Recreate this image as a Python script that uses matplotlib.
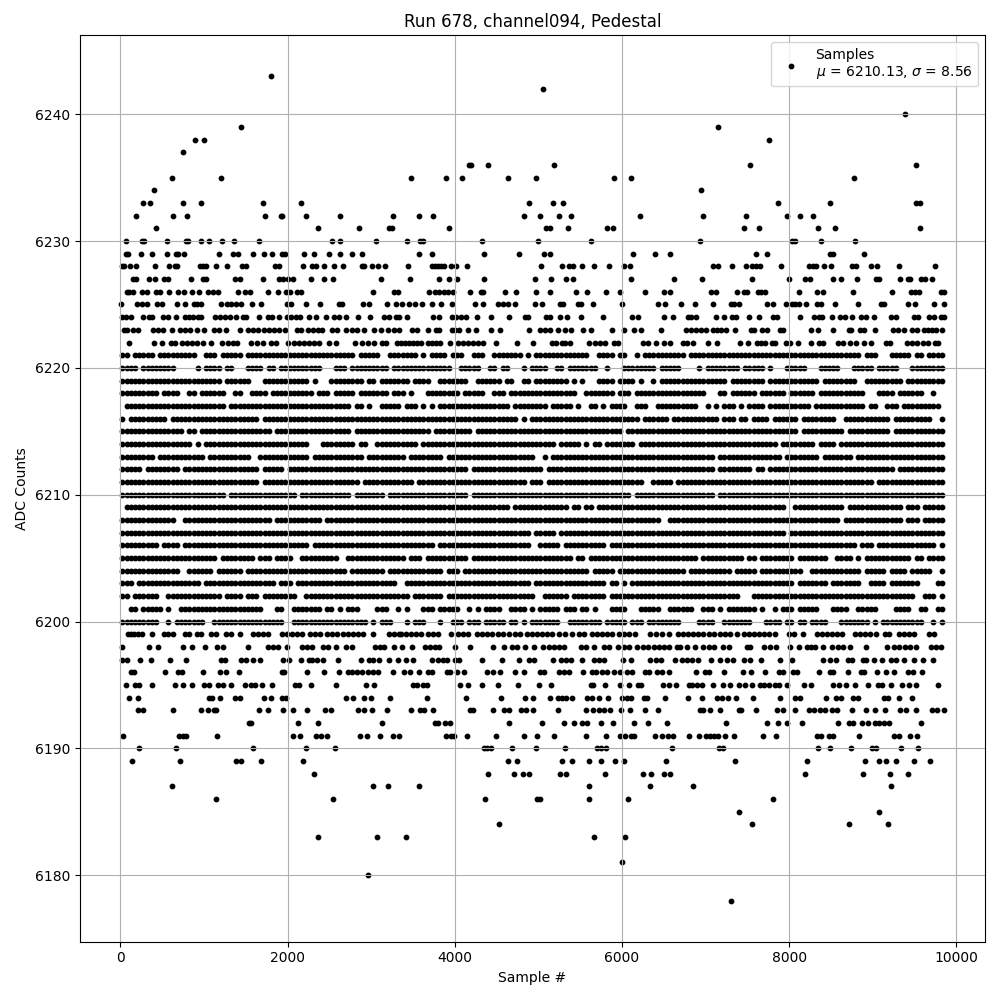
import numpy as np
import matplotlib
matplotlib.use('Agg')
import matplotlib.pyplot as plt

# Sparse ADC levels, sample numbers
s6243 = [1804]
s6242 = [5061]
s6240 = [9387]
s6239 = [1444, 7143]
s6238 = [892, 1000, 7755]
s6237 = [748]
s6236 = [4165, 4197, 4401, 5181, 7527, 9519]
s6235 = [616, 1204, 3477, 3897, 4089, 4641, 4977, 5901, 6105, 8775]
s6234 = [400, 6951]
s6233 = [268, 352, 748, 964, 1708, 2164, 4893, 5169, 5289, 7863, 8487, 9519, 9567]
s6232 = [184, 628, 796, 1732, 1920, 1932, 2224, 2632, 3256, 3573, 3741, 4833, 5025, 5241, 5385, 6213,
         6975, 7479, 7971, 8127, 8283]
s6231 = [424, 2368, 2860, 3208, 3248, 3933, 5097, 5141, 5349, 5817, 5889, 7455, 7635, 8343, 8547, 9567]
s6230 = [64, 256, 280, 556, 784, 808, 968, 1060, 1216, 1360, 1660, 2536, 2632, 3052, 3429, 3585, 3621,
         4329, 5001, 5625, 6939, 8035, 8067, 8379, 8787]
s6229 = [68, 92, 244, 376, 556, 664, 688, 760, 1180, 1348, 1408, 1588, 1720, 1816, 1936, 1972, 2200, 2320,
         2500, 2632, 2776, 2888, 3573, 3729, 4353, 4773, 5073, 5133, 6129, 6393, 6573, 7599, 7731, 8487,
         8523, 8895]
s6228 = [16, 40, 112, 184, 412, 580, 652, 676, 952, 988, 1024, 1144, 1276, 1456, 1504, 1852, 1900, 2188,
         2296, 2344, 2440, 2560, 2668, 2896, 2920, 3004, 3076, 3160, 3441, 3729, 3765, 3801, 3837, 3873,
         3957, 4017, 4149, 5037, 5277, 5361, 5409, 5517, 5661, 5841, 6021, 6093, 7083, 7143, 7311, 7479,
         7551, 7599, 7647, 7899, 8235, 8283, 8319, 8415, 8499, 8751, 8799, 8979, 9051, 9315, 9747]
s6227 = [148, 188, 340, 412, 520, 568, 844, 988, 1028, 1372, 1432, 1708, 1900, 1948, 2008, 2068, 2284,
         2440, 2548, 3112, 3465, 3813, 3933, 4029, 4353, 4965, 5145, 5325, 5409, 6105, 6621, 6963, 7551,
         7995, 8187, 8247, 8523, 8619, 8811, 9039, 9075, 9327, 9423, 9447, 9579, 9627, 9711]
s6226 = [76, 100, 148, 256, 316, 424, 472, 580, 688, 760, 856, 940, 1048, 1108, 1168, 1408, 1492, 1552,
         1768, 1888, 1984, 2032, 2116, 2164, 3016, 3268, 3316, 3693, 3765, 3813, 3873, 3921, 3981, 4185,
         4317, 4341, 4605, 4737, 4977, 5133, 5445, 5577, 5805, 5973, 6273, 6501, 6573, 7059, 7119, 7371,
         7455, 7491, 7623, 7659, 7707, 8115, 8331, 8403, 8763, 9231, 9459, 9507, 9555, 9819, 9850]
s6225 = [5, 196, 256, 316, 436, 496, 676, 772, 880, 916, 964, 1204, 1276, 1324, 1384, 1444, 1576, 1684,
         1996, 2044, 2224, 2392, 2620, 2656, 2908, 2968, 3184, 3292, 3369, 3453, 3525, 3609, 3729, 3837,
         3969, 4245, 4341, 4521, 4581, 4641, 4725, 4965, 5049, 5253, 5289, 5469, 5505, 5649, 5997, 6429,
         6513, 6711, 6879, 7083, 7299, 7335, 7395, 7731, 7803, 7959, 8031, 8067, 8115, 8199, 8331, 8379,
         8547, 8823, 9099, 9135, 9423, 9507, 9735, 9850]
s6224 = [20, 64, 124, 268, 340, 376, 508, 568, 664, 772, 820, 868, 928, 964, 1132, 1192, 1252, 1312, 1384,
         1468, 1504, 1660, 1768, 1816, 1900, 1996, 2044, 2104, 2152, 2260, 2344, 2464, 2560, 2620, 2704,
         2848, 2980, 3148, 3208, 3292, 3328, 3429, 3741, 3813, 3969, 4017, 4077, 4137, 4269, 4437, 4653,
         4845, 4881, 5097, 5133, 5253, 5337, 5505, 5769, 6117, 6189, 6501, 6615, 6795, 6831, 6891, 7119,
         7215, 7311, 7359, 7515, 7635, 7803, 7851, 8127, 8295, 8355, 8391, 8511, 8607, 8667, 8751, 8859,
         8919, 9015, 9219, 9279, 9495, 9543, 9675, 9735, 9819, 9850]
s6223 = [40, 76, 148, 208, 388, 448, 508, 616, 712, 772, 832, 916, 1000, 1120, 1180, 1264, 1432, 1528,
         1588, 1648, 1720, 1780, 1840, 1900, 1972, 2116, 2164, 2248, 2308, 2368, 2416, 2536, 2596, 2704,
         2776, 2836, 2920, 3028, 3112, 3196, 3268, 3328, 3489, 3549, 3681, 3777, 3813, 3969, 4005, 4053,
         4161, 4257, 4437, 4545, 4893, 5025, 5085, 5133, 5229, 5313, 5385, 5529, 5625, 5877, 6021, 6141,
         6225, 6465, 6771, 6831, 6891, 6951, 6999, 7083, 7131, 7179, 7239, 7347, 7539, 7575, 7671, 7731,
         7887, 7923, 8259, 8343, 8523, 8715, 8739, 8847, 8895, 9027, 9243, 9303, 9375, 9471, 9531, 9615,
         9663, 9711, 9759, 9831]
s6222 = [100, 400, 496, 604, 652, 736, 796, 856, 916, 988, 1084, 1216, 1288, 1348, 1396, 1564, 1636, 1708,
         1804, 1864, 2008, 2080, 2140, 2200, 2260, 2320, 2380, 2500, 2584, 2812, 2896, 2956, 3028, 3124,
         3172, 3309, 3357, 3405, 3453, 3501, 3549, 3597, 3681, 3729, 3777, 3825, 3945, 4041, 4101, 4161,
         4221, 4281, 4341, 4497, 4749, 4941, 5157, 5205, 5277, 5313, 5373, 5601, 5673, 5733, 5793, 5901,
         5949, 6249, 6309, 6405, 6501, 6575, 6735, 6783, 6855, 7023, 7131, 7407, 7503, 7611, 7659, 7707,
         7791, 7827, 7959, 8007, 8103, 8259, 8355, 8403, 8583, 8643, 8727, 8799, 8895, 8979, 9159, 9207,
         9411, 9471, 9531, 9603, 9663, 9747, 9783]
s6199 = [88, 128, 168, 208, 256, 376, 520, 568, 628, 768, 820, 916, 968, 1088, 1148, 1268, 1328, 1432, 1588,
         1648, 1708, 1768, 1928, 1988, 2048, 2108, 2168, 2268, 2328, 2388, 2468, 2528, 2588, 2668, 2728,
         2788, 2848, 2908, 3016, 3208, 3268, 3328, 3361, 3421, 3481, 3541, 3601, 3681, 3741, 3801, 3953,
         4041, 4101, 4161, 4261, 4321, 4381, 4441, 4521, 4581, 4653, 4721, 4785, 4861, 4921, 4981, 5041,
         5101, 5161, 5241, 5321, 5401, 5481, 5541, 5641, 5701, 5761, 5821, 5881, 5961, 6021, 6081, 6153,
         6341, 6401, 6481, 6561, 6675, 6735, 6795, 6855, 6915, 6975, 7035, 7095, 7175, 7235, 7295, 7375,
         7455, 7515, 7575, 7635, 7695, 7755, 7827, 7995, 8055, 8163, 8335, 8395, 8455, 8515, 8575, 8635,
         8787, 8847, 8907, 8967, 9039, 9147, 9195, 9315, 9375, 9435, 9495, 9675, 9735]
s6198 = [16, 340, 448, 748, 856, 1012, 1156, 1228, 1528, 1768, 1828, 1888, 1992, 2176, 2236, 2296, 2428,
         2488, 2584, 2704, 2776, 3048, 3108, 3148, 3268, 3369, 3489, 3645, 3705, 3765, 3813, 4005, 4185,
         4461, 4593, 4689, 4749, 4845, 4953, 5061, 5121, 5181, 5241, 5301, 5505, 5565, 5661, 5781, 5841,
         5949, 6021, 6081, 6177, 6249, 6309, 6381, 6441, 6501, 6561, 6655, 6695, 6783, 6879, 6975, 7035,
         7095, 7203, 7275, 7491, 7527, 7695, 7767, 7839, 8007, 8115, 8211, 8259, 8307, 8403, 8511, 8583,
         8643, 8727, 8919, 9171, 9255, 9315, 9387, 9447, 9519, 9699, 9759, 9819]
s6197 = [16, 76, 232, 364, 592, 784, 1204, 1252, 1444, 1504, 1588, 1672, 1948, 2020, 2164, 2260, 2296,
         2356, 2428, 2608, 2884, 2968, 3016, 3088, 3208, 3321, 3421, 3501, 3729, 3801, 3861, 3909, 4005,
         4053, 4329, 4569, 4773, 4893, 4953, 5169, 5265, 5325, 5385, 5517, 5661, 5721, 5781, 6009, 6105,
         6333, 6405, 6465, 6633, 6723, 6783, 6843, 6915, 7059, 7167, 7251, 7323, 7455, 7527, 7659, 7887,
         8031, 8403, 8487, 8559, 8703, 8751, 8883, 8919, 9015, 9111, 9219, 9279, 9375, 9495, 9603, 9723]
s6196 = [124, 160, 532, 688, 736, 988, 1192, 1264, 1420, 1936, 1960, 2236, 2440, 2620, 2728, 2776, 2836,
         2896, 2956, 3016, 3076, 3261, 3393, 3465, 3573, 3681, 3729, 3909, 3945, 4029, 4113, 4389, 4461,
         4545, 4725, 4833, 5025, 5073, 5241, 5301, 5361, 5529, 5637, 5685, 5757, 5817, 5901, 5973, 6057,
         6117, 6273, 6321, 6417, 6477, 6561, 6891, 6987, 7035, 7215, 7443, 7539, 7715, 7875, 7923, 8043,
         8091, 8355, 8487, 8523, 8703, 8859, 8895, 9051, 9159, 9255, 9423, 9483, 9591]
s6195 = [72, 172, 220, 376, 652, 748, 856, 1000, 1060, 1168, 1228, 1324, 1492, 1564, 1612, 1696, 1816,
         2092, 2140, 2284, 2584, 2932, 3028, 3501, 3549, 3621, 3669, 4065, 4161, 4329, 4521, 4761, 5013,
         5145, 5625, 5649, 5793, 5973, 6081, 6189, 6225, 6489, 6561, 6645, 6807, 6843, 6903, 6963, 7083,
         7203, 7287, 7395, 7467, 7551, 7647, 7695, 7755, 7827, 7875, 7971, 8175, 8259, 8523, 8595, 8679,
         8787, 8943, 9063, 9111, 9219, 9351, 9435, 9519, 9783]
s6194 = [100, 208, 1060, 1096, 1192, 1372, 1432, 1720, 1804, 1936, 1984, 2704, 2788, 2920, 2992, 3220,
         3669, 4137, 4557, 4845, 4941, 5133, 5229, 5277, 5325, 5397, 5577, 5637, 5721, 5829, 5997, 6057,
         6105, 6261, 6297, 6513, 6795, 6963, 7131, 7191, 7263, 7359, 7563, 7887, 8067, 8127, 8439, 8559,
         8619, 8763, 8823, 9135, 9183, 9319, 9471]
s6193 = [208, 268, 628, 964, 1048, 1120, 1144, 1660, 1768, 1948, 2068, 2236, 2452, 2524, 2848, 2920, 3004,
         3184, 3477, 3585, 3633, 3741, 4185, 4221, 4461, 4593, 4653, 4797, 4857, 4941, 5229, 5565, 5649,
         5721, 5781, 5861, 5985, 6093, 6273, 6429, 6939, 6975, 7047, 7167, 7395, 7419, 7599, 7851, 7923,
         8067, 8235, 8295, 8367, 8427, 8511, 8571, 8751, 8919, 9027, 9147, 9327, 9399, 9519, 9711, 9771,
         9850]
s6192 = [1540, 1564, 2128, 2368, 3124, 3765, 3801, 3885, 3945, 4653, 5049, 5301, 5421, 5517, 5577, 5745,
         5889, 6141, 6309, 6537, 7239, 7731, 7863, 7971, 8151, 8583, 8715, 8763, 8871, 8943, 9027, 9075,
         9135, 9195, 9579]
s6191 = [28, 700, 748, 784, 1156, 2068, 2152, 2344, 2404, 2476, 2872, 2944, 3100, 3256, 3333, 3897, 3957,
         3993, 4149, 4497, 4833, 4989, 5181, 5565, 5805, 5973, 6033, 6105, 6141, 6393, 6477, 6549, 6607,
         6807, 6927, 6999, 7047, 7095, 7143, 7227, 7335, 7683, 7839, 8331, 8379, 8475, 8523, 8835, 9255,
         9315, 9447, 9531]
s6190 = [220, 664, 1588, 2224, 2572, 4353, 4389, 4437, 4689, 4977, 5313, 5697, 5745, 5805, 6597, 7155,
         7203, 8343, 8487, 8739, 8991, 9039, 9339, 9543]
s6189 = [136, 712, 1384, 1444, 1684, 2188, 4641, 4749, 5277, 5397, 5601, 5745, 5913, 6021, 6525, 7347,
         8211, 8907, 9075, 9159, 9279, 9495, 9687]
s6188 = [2320, 4401, 4713, 4821, 4893, 5253, 5325, 5793, 6249, 6345, 6501, 6573, 8187, 8883, 9207, 9423]
s6187 = [616, 3016, 3196, 3573, 5601, 6333, 6855, 9219]
s6186 = [1144, 2548, 4365, 4989, 5025, 5601, 6069, 7803]
s6185 = [7395, 9075]
s6184 = [4533, 7551, 8715, 9183]
s6183 = [2368, 3064, 3417, 5661, 6033]
s6181 = [5997]
s6180 = [2956]
s6178 = [7306]

sparse_levels = [6243, 6242, 6240, 6239, 6238, 6237, 6236, 6235, 6234, 6233, 6232, 6231, 6230, 6229,
                 6228, 6227, 6226, 6225, 6224, 6223, 6222, 6199, 6198, 6197, 6196, 6195, 6194, 6193, 6192,
                 6191, 6190, 6189, 6188, 6187, 6186, 6185, 6184, 6183, 6181, 6180, 6178]
sparse_rows = [s6243, s6242, s6240, s6239, s6238, s6237, s6236, s6235, s6234, s6233, s6232, s6231,
               s6230, s6229, s6228, s6227, s6226, s6225, s6224, s6223, s6222, s6199, s6198, s6197, s6196,
               s6195, s6194, s6193, s6192, s6191, s6190, s6189, s6188, s6187, s6186, s6185, s6184, s6183,
               s6181, s6180, s6178]

# Dense levels: one character per 50 samples, '#' where the row is inked (groups of 500 samples)
BIN = 50
m6221 = '##.#####.# ########.. ###.#####. ########## ########## ######.### ##..###### #.#.####.# ##..###..# ######.#.# ########## ##..####.# #..#.##### #####.#### ########## ########## ########## #######.## #...#####. ##.####'
m6220 = '####.##### ###.....#. ####.##... ####.##.## ########.. .###.##### ####.##### #########. .#####..## .##...#.## ##..##.### ####..#... ########.# ####....#. ########.# ####.#...# ####...### ##...##### .#####...# #######'
m6219 = '########## ########## ####.##### #...###### #####.#... ########.# #.#######. ####..#### ###..##### #.##..##.# #######.#. #...####.# ###.#..#.# ########## #####.#### ####.##### #######.## ######..## #######.## #######'
m6218 = '#########. ####..##.# #####..##. .####.#### ######.### .#####.### ####.###.# ...####### #.#####..# ##.####### #########. .#######.# ##.####### ########## ...##.#### ##.######. ######.### ########.. .####.#### ##..#..'
m6217 = '.######### ########## #####.#### ########## ########## #####.##.# ..#####.## #.#.#.#### ########## ###.###### ##.#####.# ..##.#.### #..###..## ########.. #.#.###.#. ####.##### #####.#### ########.# #..###.### ######'
m6216 = '#.######## #.######## ########## ###.###### ########## ########## ########## ########## ########## #####.#.## ########## ########## ####.##### #.######## ###.###.## .####.#### ##.####### #..####### ####.##### ####..#'
m6215 = '########## #####.##.# ########## ######.### ########## #####.#### ########## ####.##### ####.##### ########## ########## ########## .######### ########## ########## ########## ##.####### ###.###### ####.##### #######'
m6214 = '########## #######.#. ########## ########## #####...## ######.##. .######### #.######## ########## ########## ####.##### .#.##.#### ###.###### ########## ########## #######.## ######.### #.######## ########## #######'
m6213 = '########.# ########## .######### #..####### #####.#### ########.# ########.# #######.## ########## #########. .#.####### ########## ########## ########## ##.####### ########.# #######.## #####.#### ########## #######'
m6212 = '#####.#### ####.##### ########## ###.#####. ########## ########## ########## ########## ###.###### ########## #.######## ########## ########## ########## ##.####### #.##.##### ########## ########## #####.#### #######'
m6211 = '########## ########## ########## ###.###### ########## #######.## ########## .######### ########## #######.## #.######## ########## #####..### ##.####### ########## ########## ########## ########## .######### #######'
m6210 = '########## ########## #####.#### ########## ##.####### #####.#### ###.###### ########## ###.###### ########## ########## ########## ##.####### ########## ##.####### ########## ########## ########## ########## #######'
m6209 = '.######### ########## ########## ########## ########## ########## ########## ########## ########## ###.###### #######.## .##.###### ########## ########## ########## #########. .######### ###.###### #######.## #.#####'
m6208 = '########## ###..##### ########## ######.### ########.# ########## ########## ########## ########## ########## ########## ########## #########. .######### ########## ########## ########## ##.####### #######.## #.#####'
m6207 = '########## ########## ########## ########## ########## ########## ########## ########## ########## ########.# ####.##### ########## ########## ########## ########## #########. ########## ########## ########## #######'
m6206 = '#########. ####.##### ########## ########## #####.#### ########## ########## #####.#### ########## ########.. #####.#### ######.### ########## ########## ########## ########## ########## ######.### .######### #####.#'
m6205 = '########## ########## ###.###### ##.###.### #..####### ##..###### ########.# ##.####### ###.###### ########## ########.# #.######## ########## ########.# #########. ##.####### #.#######. .####.#.## #########. ##.####'
m6204 = '########## ####..#### ##.######. ########## ########## ####.##### ###.###### #######.## #.######## ########## ########## ##.#####.# ########## #####.#### ######.### ##.####### ###..##### #######.## ###.####.# ####..#'
m6203 = '###.###### #########. ########## #######.## #.######## ########## ######..## ########## ########## ########.# ########## ######.##. #.######## ########## ########## ########## #.#######. #######..# ###.###### #....##'
m6202 = '##.######. .######### ####.####. ###.###### ##..###### ########## #########. #######.## ########## #########. .######.## ######.### ########## ########## ########.. .######### ########## ########## ########## ..###.#'
m6201 = '..##.##### .#..###### ########## ####...##. .#######.# #.#.###... .###..#.#. ..###.#### #..#.#.### #..####.#. #####.###. ##.#...### #...#####. .######..# ##.#.##### ##.#..#.## #.#####... ####..#### #....####. .##..##'
m6200 = '#########. .#.####### ..######## #########. .######### #########. #.###...#. ###...#..# ##.###.### ##.##.#.## #####..### #####.#### #.###.#### ####....## ##..###### #...####.# #.##.####. ..#######. #.######## ##..#.#'

dense_levels = [6221, 6220, 6219, 6218, 6217, 6216, 6215, 6214, 6213, 6212, 6211, 6210, 6209, 6208, 6207,
                6206, 6205, 6204, 6203, 6202, 6201, 6200]
dense_rows = [m6221, m6220, m6219, m6218, m6217, m6216, m6215, m6214, m6213, m6212, m6211, m6210, m6209,
              m6208, m6207, m6206, m6205, m6204, m6203, m6202, m6201, m6200]


def main():
    xs, ys = [], []
    for level, row in zip(sparse_levels, sparse_rows):
        xs.extend(row)
        ys.extend([level] * len(row))
    for level, mask in zip(dense_levels, dense_rows):
        cells = np.array(list(mask.replace(' ', ''))) == '#'
        found = np.flatnonzero(cells) * BIN + BIN // 2
        xs.extend(found.tolist())
        ys.extend([level] * len(found))

    plt.figure(figsize=(10, 10))
    plt.scatter(xs, ys, s=10, c='k', label='Samples\n$\\mu$ = 6210.13, $\\sigma$ = 8.56')
    plt.title('Run 678, channel094, Pedestal')
    plt.xlabel('Sample #')
    plt.ylabel('ADC Counts')
    plt.legend(loc='upper right')
    plt.grid()
    plt.tight_layout()
    plt.subplots_adjust(top=0.965)
    plt.savefig('out.png', dpi=100)


if __name__ == '__main__':
    main()
